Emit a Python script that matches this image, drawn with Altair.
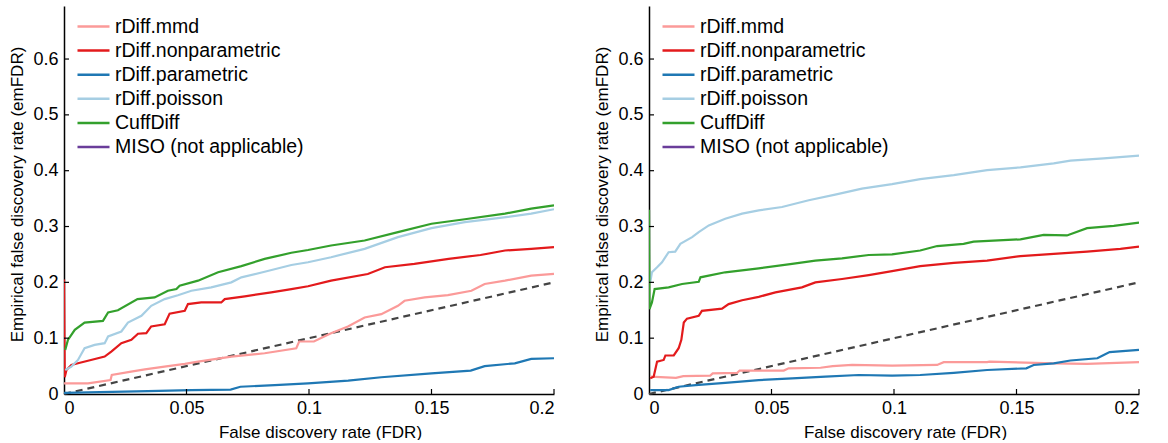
import altair as alt
import pandas as pd

# ---------------- data ----------------
SERIES = ["rDiff.mmd", "rDiff.nonparametric", "rDiff.parametric",
          "rDiff.poisson", "CuffDiff", "MISO (not applicable)"]
COLORS = ["#fb9a99", "#e31a1c", "#1f78b4", "#a6cee3", "#33a02c", "#6a3d9a"]

# Left panel
L_mmd_x = [0.0, 0.0098, 0.019, 0.0195, 0.0274, 0.033, 0.041, 0.0493, 0.0547, 0.0683, 0.0819, 0.0948, 0.096, 0.102,
           0.109, 0.1159, 0.1227, 0.1295, 0.1363, 0.139, 0.1472, 0.1567, 0.1663, 0.1717, 0.180, 0.1907, 0.2]
L_mmd_y = [0.019, 0.019, 0.025, 0.034, 0.040, 0.044, 0.049, 0.054, 0.058, 0.067, 0.073, 0.082, 0.094, 0.094,
           0.109, 0.121, 0.137, 0.143, 0.158, 0.167, 0.173, 0.177, 0.185, 0.197, 0.203, 0.212, 0.215]
L_np_x = [0.0, 0.0003, 0.001, 0.003, 0.0057, 0.011, 0.0166, 0.0193, 0.0234, 0.0275, 0.0302, 0.0336, 0.0356, 0.0411,
          0.0431, 0.0493, 0.0506, 0.056, 0.0642, 0.0656, 0.0738, 0.0846, 0.0928, 0.0996, 0.109, 0.124, 0.131, 0.143,
          0.157, 0.170, 0.180, 0.1907, 0.2]
L_np_y = [0.205, 0.03, 0.043, 0.052, 0.055, 0.061, 0.067, 0.076, 0.091, 0.097, 0.108, 0.109, 0.121, 0.125,
          0.144, 0.149, 0.161, 0.164, 0.164, 0.170, 0.175, 0.182, 0.188, 0.193, 0.203, 0.215, 0.227, 0.233,
          0.242, 0.249, 0.257, 0.260, 0.263]
L_par_x = [0.0, 0.0343, 0.052, 0.068, 0.072, 0.086, 0.0996, 0.116, 0.1295, 0.150, 0.166, 0.1717, 0.184, 0.1907, 0.2]
L_par_y = [0.002, 0.005, 0.007, 0.008, 0.013, 0.016, 0.019, 0.024, 0.030, 0.037, 0.042, 0.050, 0.055, 0.063, 0.064]
L_poi_x = [0.0005, 0.003, 0.0057, 0.0084, 0.0125, 0.0166, 0.018, 0.0234, 0.0261, 0.0316, 0.0356, 0.0411, 0.0465,
           0.052, 0.0601, 0.0683, 0.0724, 0.0819, 0.0928, 0.0996, 0.109, 0.1227, 0.1363, 0.150, 0.1636, 0.1771,
           0.1907, 0.2]
L_poi_y = [0.043, 0.049, 0.061, 0.082, 0.088, 0.091, 0.103, 0.112, 0.128, 0.140, 0.158, 0.170, 0.177,
           0.185, 0.191, 0.200, 0.209, 0.219, 0.231, 0.236, 0.245, 0.260, 0.281, 0.297, 0.308, 0.315,
           0.323, 0.331]
L_cuf_x = [0.0005, 0.0016, 0.0044, 0.0084, 0.0159, 0.018, 0.022, 0.030, 0.037, 0.0424, 0.0459, 0.0472, 0.0547,
           0.0629, 0.0724, 0.0819, 0.0928, 0.0996, 0.109, 0.1227, 0.1363, 0.150, 0.1636, 0.180, 0.1907, 0.2]
L_cuf_y = [0.079, 0.097, 0.115, 0.128, 0.131, 0.146, 0.150, 0.170, 0.173, 0.185, 0.188, 0.194, 0.203,
           0.218, 0.229, 0.242, 0.253, 0.258, 0.266, 0.275, 0.290, 0.305, 0.313, 0.323, 0.332, 0.338]

# Right panel
R_mmd_x = [0.0005, 0.011, 0.014, 0.025, 0.026, 0.036, 0.037, 0.055, 0.057, 0.070, 0.075, 0.0829, 0.0992, 0.1176,
           0.1203, 0.138, 0.139, 0.165, 0.1788, 0.2]
R_mmd_y = [0.031, 0.029, 0.032, 0.033, 0.037, 0.038, 0.042, 0.042, 0.046, 0.047, 0.050, 0.052, 0.051, 0.052,
           0.057, 0.057, 0.058, 0.055, 0.054, 0.057]
R_np_x = [0.0005, 0.0019, 0.0033, 0.006, 0.0067, 0.0101, 0.0121, 0.0132, 0.0142, 0.0155, 0.0203, 0.0216, 0.0298,
          0.0325, 0.038, 0.0448, 0.0516, 0.0624, 0.0679, 0.0788, 0.0897, 0.0992, 0.1107, 0.1244, 0.138, 0.1516,
          0.1652, 0.1788, 0.1924, 0.2]
R_np_y = [0.028, 0.031, 0.058, 0.061, 0.069, 0.069, 0.082, 0.097, 0.128, 0.135, 0.140, 0.149, 0.153,
          0.161, 0.168, 0.174, 0.182, 0.191, 0.200, 0.206, 0.213, 0.220, 0.229, 0.235, 0.239, 0.247,
          0.251, 0.255, 0.260, 0.264]
R_par_x = [0.0005, 0.008, 0.0121, 0.019, 0.0311, 0.0448, 0.0584, 0.072, 0.0856, 0.0992, 0.1107, 0.1244, 0.138,
           0.154, 0.157, 0.1652, 0.172, 0.183, 0.1856, 0.188, 0.2]
R_par_y = [0.007, 0.007, 0.013, 0.016, 0.020, 0.025, 0.028, 0.031, 0.034, 0.033, 0.034, 0.038, 0.043,
           0.046, 0.052, 0.055, 0.060, 0.064, 0.070, 0.075, 0.079]
R_poi_x = [0.0005, 0.0012, 0.0033, 0.0053, 0.008, 0.0107, 0.0128, 0.0176, 0.0203, 0.0244, 0.0311, 0.038, 0.0448,
           0.0543, 0.0652, 0.076, 0.0869, 0.0992, 0.1107, 0.1244, 0.138, 0.1516, 0.1652, 0.172, 0.1856, 0.2]
R_poi_y = [0.200, 0.218, 0.227, 0.236, 0.254, 0.255, 0.269, 0.281, 0.290, 0.302, 0.314, 0.323, 0.329,
           0.335, 0.347, 0.357, 0.368, 0.376, 0.385, 0.392, 0.401, 0.406, 0.413, 0.418, 0.422, 0.427]
R_cuf_x = [0.0, 0.0002, 0.0012, 0.0023, 0.008, 0.0135, 0.0203, 0.021, 0.0311, 0.0448, 0.0584, 0.0679, 0.0788,
           0.0897, 0.0992, 0.1107, 0.1176, 0.1284, 0.1325, 0.1516, 0.1611, 0.1706, 0.1788, 0.1897, 0.2]
R_cuf_y = [0.33, 0.152, 0.164, 0.188, 0.191, 0.197, 0.201, 0.209, 0.218, 0.225, 0.233, 0.239, 0.243,
           0.249, 0.250, 0.257, 0.265, 0.269, 0.273, 0.277, 0.285, 0.284, 0.297, 0.301, 0.307]

DIAG_X = [0.0, 0.2]
DIAG_Y = [0.0, 0.2]

X_TICKS = [0, 0.05, 0.1, 0.15, 0.2]
Y_TICKS = [0, 0.1, 0.2, 0.3, 0.4, 0.5, 0.6]


def frame(pairs):
    rows = []
    for name, xs, ys in pairs:
        for i, (a, b) in enumerate(zip(xs, ys)):
            rows.append({"method": name, "fdr": a, "emfdr": b, "order": i})
    return pd.DataFrame(rows)


left_df = frame([
    ("rDiff.mmd", L_mmd_x, L_mmd_y),
    ("rDiff.nonparametric", L_np_x, L_np_y),
    ("rDiff.parametric", L_par_x, L_par_y),
    ("rDiff.poisson", L_poi_x, L_poi_y),
    ("CuffDiff", L_cuf_x, L_cuf_y),
])
right_df = frame([
    ("rDiff.mmd", R_mmd_x, R_mmd_y),
    ("rDiff.nonparametric", R_np_x, R_np_y),
    ("rDiff.parametric", R_par_x, R_par_y),
    ("rDiff.poisson", R_poi_x, R_poi_y),
    ("CuffDiff", R_cuf_x, R_cuf_y),
])
diag_df = pd.DataFrame({"fdr": DIAG_X, "emfdr": DIAG_Y})
xt_df = pd.DataFrame({"t": X_TICKS[1:]})
yt_df = pd.DataFrame({"t": Y_TICKS[1:]})

FONT = "Liberation Sans"
W, H = 490, 388

xscale = alt.Scale(domain=[0, 0.2], nice=False, zero=True)
yscale = alt.Scale(domain=[0, 0.695], nice=False, zero=True)


def panel(df):
    x_axis = alt.Axis(values=X_TICKS, title="False discovery rate (FDR)", ticks=False,
                      labelExpr="datum.value == 0 ? '0' : format(datum.value, '')",
                      grid=False, labelPadding=5, titlePadding=7, titleX=W / 2 + 11)
    y_axis = alt.Axis(values=Y_TICKS, title="Empirical false discovery rate (emFDR)", ticks=False,
                      labelExpr="datum.value == 0 ? '0' : format(datum.value, '')",
                      grid=False, labelPadding=6, titlePadding=6, titleY=H / 2 - 6)
    lines = alt.Chart(df).mark_line(strokeWidth=2.2, clip=True).encode(
        x=alt.X("fdr:Q", scale=xscale, axis=x_axis),
        y=alt.Y("emfdr:Q", scale=yscale, axis=y_axis),
        color=alt.Color("method:N",
                        scale=alt.Scale(domain=SERIES, range=COLORS),
                        legend=alt.Legend(title=None, orient="none", legendX=12, legendY=10.5,
                                          symbolType="stroke", symbolSize=1024,
                                          symbolStrokeWidth=2.5, clipHeight=20, rowPadding=4.1,
                                          labelFontSize=19.5, labelFont=FONT, labelOffset=4,
                                          labelLimit=0, labelColor="black", padding=0)),
        order="order:Q",
        detail="method:N",
    )
    diag = alt.Chart(diag_df).mark_line(color="#444444", strokeWidth=2.2,
                                          strokeDash=[7, 5]).encode(
        x=alt.X("fdr:Q", scale=xscale),
        y=alt.Y("emfdr:Q", scale=yscale),
    )
    xt = alt.Chart(xt_df).mark_rule(color="black", strokeWidth=1.2).encode(
        x=alt.X("t:Q", scale=xscale), y=alt.value(H), y2=alt.value(H - 5))
    yt = alt.Chart(yt_df).mark_rule(color="black", strokeWidth=1.2).encode(
        y=alt.Y("t:Q", scale=yscale), x=alt.value(0), x2=alt.value(5))
    return alt.layer(diag, lines, xt, yt).properties(width=W, height=H)


chart = alt.hconcat(panel(left_df), panel(right_df), spacing=34).resolve_scale(
    color="independent").resolve_legend(color="independent").configure(
    padding={"left": 8, "top": 6, "right": 5, "bottom": 0},
    font=FONT,
).configure_axis(
    domainColor="black", domainWidth=1.5,
    labelFont=FONT, labelFontSize=18, labelColor="black",
    titleFont=FONT, titleFontSize=17, titleFontWeight="normal", titleColor="black",
).configure_view(stroke=None)

chart.save("out.html", embed_options={"renderer": "svg", "actions": False})
